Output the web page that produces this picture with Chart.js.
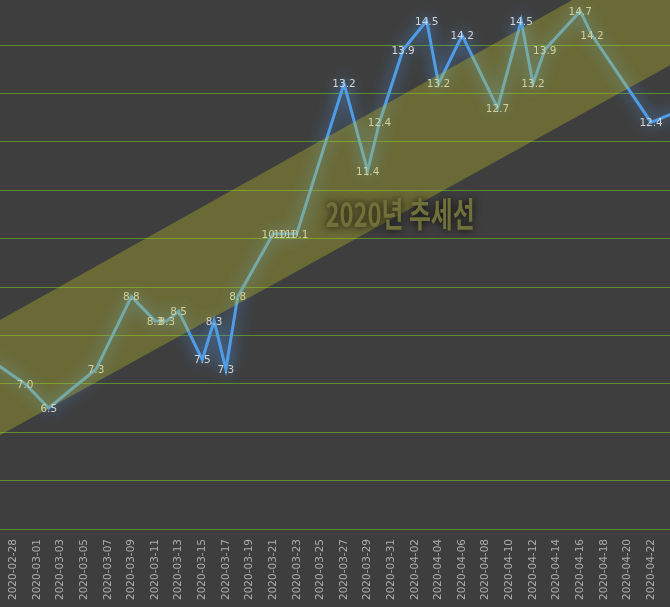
<!DOCTYPE html>
<html><head><meta charset="utf-8">
<script src="https://cdn.jsdelivr.net/npm/chart.js@4.4.1/dist/chart.umd.min.js"></script>
<style>html,body{margin:0;padding:0;background:#3e3e3e;overflow:hidden;}</style>
</head><body>
<canvas id="c" width="670" height="607"></canvas>
<script>
// ---- data ----
const dates = ['2020-02-26','2020-02-29','2020-03-02','2020-03-06','2020-03-09','2020-03-11','2020-03-12','2020-03-13','2020-03-15','2020-03-16','2020-03-17','2020-03-18','2020-03-21','2020-03-22','2020-03-23','2020-03-27','2020-03-29','2020-03-30','2020-04-01','2020-04-03','2020-04-04','2020-04-06','2020-04-09','2020-04-11','2020-04-12','2020-04-13','2020-04-16','2020-04-17','2020-04-22','2020-04-25'];
const values = [7.5,7.0,6.5,7.3,8.8,8.3,8.3,8.5,7.5,8.3,7.3,8.8,10.1,10.1,10.1,13.2,11.4,12.4,13.9,14.5,13.2,14.2,12.7,14.5,13.2,13.9,14.7,14.2,12.4,12.7];
const tickLabels = ['2020-02-28','2020-03-01','2020-03-03','2020-03-05','2020-03-07','2020-03-09','2020-03-11','2020-03-13','2020-03-15','2020-03-17','2020-03-19','2020-03-21','2020-03-23','2020-03-25','2020-03-27','2020-03-29','2020-03-31','2020-04-02','2020-04-04','2020-04-06','2020-04-08','2020-04-10','2020-04-12','2020-04-14','2020-04-16','2020-04-18','2020-04-20','2020-04-22'];
const bandDates = ['2020-02-26','2020-04-25'];
const bandUpper = [8.2, 16.25];
const bandLower = [5.82, 13.77];
const trendTitle = '2020년 추세선';

function dayNum(s){const p=s.split('-').map(Number);return (Date.UTC(p[0],p[1]-1,p[2])-Date.UTC(2020,1,28))/864e5;}

const LINE = 2;
const glowAndLabels = {
  id:'glowAndLabels',
  beforeDatasetDraw(chart,args){
    if(args.index!==LINE) return;
    const ctx=chart.ctx; ctx.save();
    ctx.shadowColor='rgba(80,160,255,1)'; ctx.shadowBlur=16;
  },
  afterDatasetDraw(chart,args){
    if(args.index!==LINE) return;
    const ctx=chart.ctx; ctx.restore();
    const meta=chart.getDatasetMeta(LINE), a=chart.chartArea;
    ctx.save();
    ctx.beginPath(); ctx.rect(a.left,a.top,a.right-a.left,a.bottom-a.top); ctx.clip();
    ctx.font='10.5px "DejaVu Sans"'; ctx.fillStyle='#d4d4d4';
    ctx.textAlign='center'; ctx.textBaseline='middle';
    meta.data.forEach((p,i)=>ctx.fillText(values[i].toFixed(1),p.x,p.y+1));
    ctx.restore();
  }
};
const titlePlugin = {
  id:'trendTitle',
  afterDraw(chart){
    const ctx=chart.ctx, a=chart.chartArea;
    const cx=a.left+(a.right-a.left)*0.597, cy=a.top+(a.bottom-a.top)*0.405;
    ctx.save();
    ctx.translate(cx,cy); ctx.scale(0.7,1);
    ctx.font='bold 34px "Noto Sans CJK KR"';
    ctx.textAlign='center'; ctx.textBaseline='middle';
    ctx.shadowColor='rgba(0,0,0,0.85)'; ctx.shadowBlur=9;
    ctx.fillStyle='#70703b';
    ctx.fillText(trendTitle,0,0);
    ctx.restore();
  }
};

new Chart(document.getElementById('c'),{
  type:'line',
  data:{datasets:[
    {label:'upper',data:bandDates.map((s,i)=>({x:dayNum(s),y:bandUpper[i]})),borderColor:'rgba(0,0,0,0)',borderWidth:0,pointRadius:0,fill:'+1',backgroundColor:'rgba(200,200,40,0.32)',order:0},
    {label:'lower',data:bandDates.map((s,i)=>({x:dayNum(s),y:bandLower[i]})),borderColor:'rgba(0,0,0,0)',borderWidth:0,pointRadius:0,fill:false,order:0},
    {label:'value',data:dates.map((s,i)=>({x:dayNum(s),y:values[i]})),borderColor:'#4f9de6',borderWidth:3,pointRadius:0,tension:0,fill:false,order:1}
  ]},
  options:{
    responsive:false,animation:false,devicePixelRatio:1,
    layout:{padding:0},
    plugins:{legend:{display:false},tooltip:{enabled:false}},
    scales:{
      x:{type:'linear',min:-1.126,max:55.6,
        grid:{display:false,drawTicks:false},border:{display:false},
        afterBuildTicks:s=>{s.ticks=tickLabels.map(t=>({value:dayNum(t)}));},
        afterFit:s=>{s.height=78;s.paddingLeft=0;s.paddingRight=0;},
        ticks:{autoSkip:false,maxRotation:90,minRotation:90,padding:10,color:'#acacac',
          font:{family:'DejaVu Sans',size:10.5},
          callback:(v,i)=>tickLabels[i]}},
      y:{min:4,max:14.93,
        afterFit:s=>{s.width=0;},
        ticks:{display:false,stepSize:1,includeBounds:false},
        grid:{color:'#5b8c2e',lineWidth:1,drawTicks:false},border:{display:false}}
    }
  },
  plugins:[glowAndLabels,titlePlugin]
});
</script>
</body></html>
